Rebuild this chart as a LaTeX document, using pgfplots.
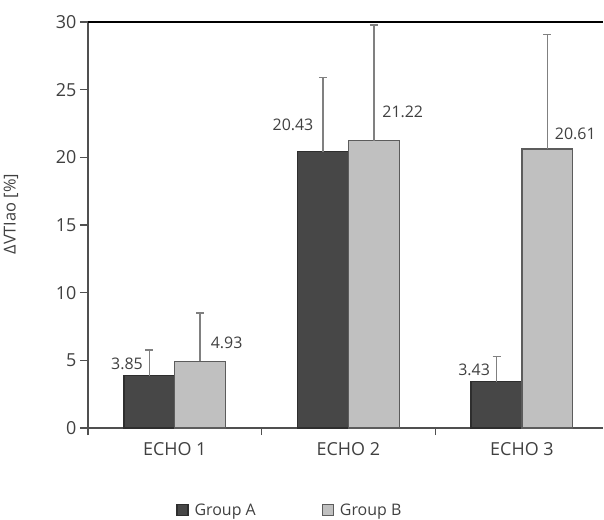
\documentclass[border=0pt]{standalone}
\usepackage{pgfplots}
\usepackage{pgfplotstable}
\pgfplotsset{compat=1.18}
\usepackage{fontspec}
\setmainfont{Open Sans}

\definecolor{txt}{HTML}{404040}
\definecolor{darkbar}{HTML}{474747}
\definecolor{darkedge}{HTML}{2E2E2E}
\definecolor{lightbar}{HTML}{C0C0C0}
\definecolor{lightedge}{HTML}{5C5C5C}
\definecolor{errgray}{HTML}{808080}
\definecolor{axisgray}{HTML}{505050}

% mean, upper SD and label offsets (bp) for each echo
\pgfplotstableread{
x y err dx dy
1 3.85 1.91 -6 6
2 20.43 5.46 -9 20
3 3.43 1.84 -6 5
}\groupA
\pgfplotstableread{
x y err dx dy
1 4.93 3.57 10 12
2 21.22 8.56 8 22
3 20.61 8.46 7 9
}\groupB

\begin{document}
\begin{tikzpicture}
\useasboundingbox (-88bp,-92bp) rectangle (516bp,428bp);
\begin{axis}[
  scale only axis,
  width=515bp, height=406bp,
  xmin=0.5, xmax=3.467,
  ymin=0, ymax=30,
  clip=false,
  axis x line*=bottom, axis y line*=left,
  axis line style={axisgray, line width=1.2bp},
  ybar=0pt, bar width=0.293,
  xtick={1,2,3}, xticklabels={ECHO 1, ECHO 2, ECHO 3},
  minor xtick={0.5,1.5,2.5,3.5},
  ytick={0,5,...,30},
  tick align=outside,
  major x tick style={draw=none},
  major tick length=8bp, minor tick length=7bp,
  every tick/.style={axisgray, line width=1.1bp},
  /pgf/number format/assume math mode=true,
  tick label style={font=\fontsize{18}{21}\selectfont, text=txt},
  xticklabel style={yshift=-3bp},
  ylabel={ΔVTIao [\%]},
  ylabel style={at={(axis description cs:-0.1495,0.527)}, anchor=center,
    font=\fontsize{16.5}{19}\selectfont, text=txt},
  legend style={at={(axis description cs:0.392,-0.202)}, anchor=center,
    draw=none, fill=none, legend columns=2,
    font=\fontsize{16}{19}\selectfont, text=txt,
    /tikz/every even column/.append style={column sep=64bp}},
  legend image code/.code={\draw[#1] (0bp,-5.5bp) rectangle (11bp,5.5bp);
    \path (15bp,0bp);},
  nodes near coords={\pgfmathprintnumber[fixed,fixed zerofill,precision=2]{\pgfplotspointmeta}},
  visualization depends on={\thisrow{dx} \as \dx},
  visualization depends on={\thisrow{dy} \as \dy},
]
\addplot[fill=darkbar, draw=darkedge, line width=1.2bp,
  nodes near coords style={anchor=south east, inner sep=0pt,
    xshift=\dx bp, yshift=\dy bp, font=\fontsize{16}{19}\selectfont, text=txt},
  error bars/.cd, y dir=plus, y explicit,
  error bar style={errgray, line width=1.5bp},
  error mark options={rotate=90, mark size=4bp, errgray, line width=1.5bp}]
  table[x=x, y=y, y error=err]{\groupA};
\addlegendentry{Group A}
\addplot[fill=lightbar, draw=lightedge, line width=1.2bp,
  nodes near coords style={anchor=south west, inner sep=0pt,
    xshift=\dx bp, yshift=\dy bp, font=\fontsize{16}{19}\selectfont, text=txt},
  error bars/.cd, y dir=plus, y explicit,
  error bar style={errgray, line width=1.5bp},
  error mark options={rotate=90, mark size=4bp, errgray, line width=1.5bp}]
  table[x=x, y=y, y error=err]{\groupB};
\addlegendentry{Group B}
% closing rule along the top of the plot area
\draw[black, line width=1.3bp] (rel axis cs:0,1) -- (rel axis cs:1,1);
\end{axis}
\end{tikzpicture}
\end{document}
